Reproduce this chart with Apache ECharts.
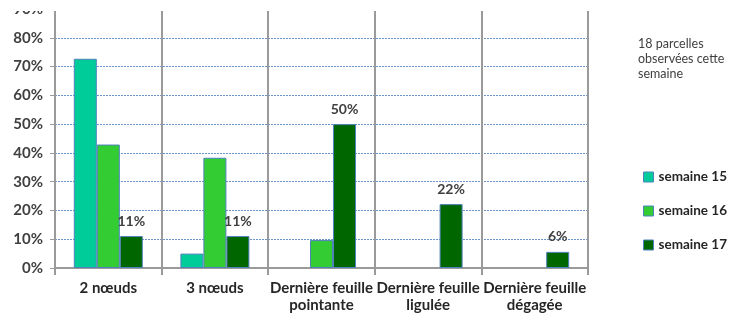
<!DOCTYPE html>
<html>
<head>
<meta charset="utf-8">
<script src="https://cdn.jsdelivr.net/npm/echarts@6/dist/echarts.min.js"></script>
<style>
  html, body { margin: 0; padding: 0; background: #fff; }
  #chart { width: 734px; height: 314px; }
</style>
</head>
<body>
<div id="chart"></div>
<script>
// données
const categories = ["2 nœuds", "3 nœuds", "Dernière feuille\npointante", "Dernière feuille\nligulée", "Dernière feuille\ndégagée"];
const semaine15 = [72.7, 5, null, null, null];
const semaine16 = [42.9, 38.3, 9.7, null, null];
const semaine17 = [11.1, 11.1, 50, 22.2, 5.6];
const yTicks = [0, 10, 20, 30, 40, 50, 60, 70, 80, 90];

const font = "Lato, 'DejaVu Sans', sans-serif";
const chart = echarts.init(document.getElementById("chart"));

function barSerie(name, data, color, withLabel) {
  return {
    name: name,
    type: "bar",
    data: data,
    barWidth: 23,
    barGap: "0%",
    itemStyle: { color: color, borderColor: "#4f81bd", borderWidth: 1 },
    label: {
      show: withLabel,
      position: "top",
      distance: 8,
      formatter: (p) => Math.round(p.value) + "%",
      fontFamily: font,
      fontWeight: "bold",
      fontSize: 14,
      color: "#404040",
    },
  };
}

chart.setOption({
  animation: false,
  textStyle: { fontFamily: font },
  grid: { left: 55, right: 146, top: 9, bottom: 46 },
  title: {
    text: "18 parcelles\nobservées cette\nsemaine",
    left: 633,
    top: 31,
    textStyle: { fontFamily: font, fontSize: 12.5, fontWeight: "normal", color: "#404040", lineHeight: 15 },
  },
  legend: {
    orient: "vertical",
    left: 638,
    top: 165,
    itemWidth: 10,
    itemHeight: 10,
    itemGap: 20,
    icon: "rect",
    itemStyle: { borderColor: "#4f81bd", borderWidth: 1 },
    textStyle: { fontFamily: font, fontWeight: "bold", fontSize: 13.5, color: "#262626" },
    data: ["semaine 15", "semaine 16", "semaine 17"],
  },
  // le haut de l'image d'origine est rogné (étiquette 90% coupée)
  graphic: [{
    type: "rect",
    left: 0,
    top: 0,
    z: 100,
    shape: { width: 734, height: 11 },
    style: { fill: "#fff" },
  }],
  xAxis: {
    type: "category",
    data: categories,
    axisLine: { lineStyle: { color: "#9a9a9a", width: 2 } },
    axisTick: { show: true, length: 7, lineStyle: { color: "#9a9a9a", width: 2 } },
    splitLine: { show: true, lineStyle: { color: "#9a9a9a", width: 2 } },
    axisLabel: {
      interval: 0,
      margin: 12,
      fontFamily: font,
      fontWeight: "bold",
      fontSize: 15,
      lineHeight: 17,
      color: "#262626",
    },
  },
  yAxis: {
    type: "value",
    min: yTicks[0],
    max: yTicks[yTicks.length - 1],
    interval: 10,
    axisLine: { show: true, lineStyle: { color: "#9a9a9a", width: 2 } },
    axisTick: { show: true, length: 5, lineStyle: { color: "#9a9a9a", width: 1 } },
    splitLine: { show: true, lineStyle: { color: "#6a96d0", type: [2, 1], width: 1 } },
    axisLabel: {
      formatter: "{value}%",
      margin: 12,
      fontFamily: font,
      fontWeight: "bold",
      fontSize: 15,
      color: "#404040",
    },
  },
  series: [
    barSerie("semaine 15", semaine15, "#00cc99", false),
    barSerie("semaine 16", semaine16, "#33cc33", false),
    barSerie("semaine 17", semaine17, "#006600", true),
  ],
});
</script>
</body>
</html>
